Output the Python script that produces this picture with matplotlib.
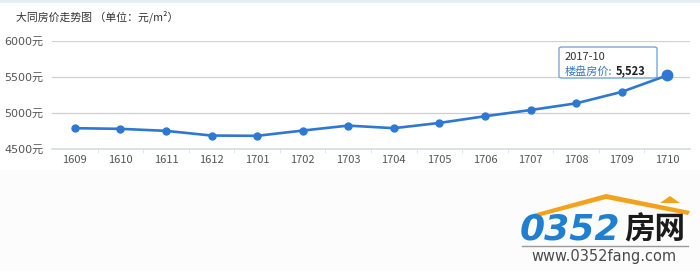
import matplotlib.pyplot as plt
from matplotlib.patches import Polygon, FancyBboxPatch

plt.rcParams['font.family'] = ['Noto Sans CJK SC', 'DejaVu Sans']

months = ['1609', '1610', '1611', '1612', '1701', '1702', '1703',
          '1704', '1705', '1706', '1707', '1708', '1709', '1710']
prices = [4789, 4780, 4752, 4687, 4683, 4756, 4825,
          4789, 4862, 4955, 5041, 5134, 5293, 5523]
yticks = [4500, 5000, 5500, 6000]
ytick_labels = ['4500元', '5000元', '5500元', '6000元']
hover_label = '2017-10'

line_color = '#2e78d2'

fig = plt.figure(figsize=(7, 2.71), dpi=100)
fig.patch.set_facecolor('white')

# light grey lower band behind the logo
fig.add_artist(plt.Rectangle((0, 0), 1, 101 / 271, transform=fig.transFigure,
                             facecolor='#fcfcfc', edgecolor='none', zorder=0))
fig.add_artist(plt.Line2D([0, 1], [0.997, 0.997], transform=fig.transFigure,
                          color='#e3eef7', lw=2))

ax = fig.add_axes([52 / 700, 122 / 271, 638 / 700, 108 / 271])
ax.set_facecolor('white')

x = list(range(len(months)))
ax.plot(x, prices, color=line_color, lw=1.9, marker='o', markersize=5,
        markeredgecolor=line_color, markerfacecolor=line_color, zorder=3)
ax.plot(x[-1], prices[-1], 'o', color=line_color, markersize=7.5, zorder=4)

ax.set_xlim(-0.5, len(months) - 0.5)
ax.set_ylim(yticks[0], yticks[-1])
ax.set_yticks(yticks)
ax.set_yticklabels(ytick_labels)
ax.set_xticks(x)
ax.set_xticklabels(months)
ax.set_xticks([i + 0.5 for i in x[:-1]], minor=True)
ax.tick_params(axis='y', length=0, pad=6, labelsize=8, labelcolor='#555555')
ax.tick_params(axis='x', which='major', length=0, pad=4, labelsize=8,
               labelcolor='#555555')
ax.tick_params(axis='x', which='minor', length=3, color='#dde3ea', direction='out')
for t in ax.get_yticklabels():
    t.set_fontfamily(['DejaVu Sans', 'Noto Sans CJK SC'])

ax.grid(axis='y', color='#d0d0d0', lw=0.9)
for s in ['top', 'right', 'left']:
    ax.spines[s].set_visible(False)
ax.spines['bottom'].set_color('#d5dbe2')
ax.spines['bottom'].set_linewidth(1.2)

fig.text(16 / 700, 1 - 17 / 271, '大同房价走势图 （单位：元/m²）', fontsize=7.8,
         color='#333333', va='center', ha='left')

# tooltip
tip = FancyBboxPatch((559 / 700, 1 - 78 / 271), 98 / 700, 31 / 271,
                     boxstyle='round,pad=0,rounding_size=0.005',
                     transform=fig.transFigure, facecolor='white', alpha=0.9,
                     edgecolor='#6a9ed8', lw=1.0, zorder=5)
fig.add_artist(tip)
fig.text(565 / 700, 1 - 57 / 271, hover_label, fontsize=8, color='#333333',
         va='center', ha='left', zorder=6)
fig.text(565 / 700, 1 - 71 / 271, '楼盘房价:', fontsize=8, color='#3a78c0',
         va='center', ha='left', zorder=6)
fig.text(616 / 700, 1 - 71 / 271, f'{prices[-1]:,}', fontsize=8,
         color='#222222', weight='bold', va='center', ha='left', zorder=6)

# logo
roof = Polygon([[533 / 700, 1 - 214 / 271], [606 / 700, 1 - 194 / 271],
                [690 / 700, 1 - 211 / 271], [688 / 700, 1 - 215 / 271],
                [606 / 700, 1 - 199 / 271], [537 / 700, 1 - 217 / 271]],
               closed=True, transform=fig.transFigure, facecolor='#f4a21c',
               edgecolor='none', zorder=2)
fig.add_artist(roof)
chimney = Polygon([[660 / 700, 1 - 203 / 271], [670 / 700, 1 - 196 / 271],
                   [680 / 700, 1 - 203 / 271]], closed=True,
                  transform=fig.transFigure, facecolor='#f4a21c',
                  edgecolor='none', zorder=2)
fig.add_artist(chimney)
fig.text(520 / 700, 1 - 230 / 271, '0352', fontsize=26, color='#1f7fd0',
         weight='bold', style='italic', family='DejaVu Sans',
         va='center', ha='left')
fig.text(624 / 700, 1 - 229 / 271, '房网', fontsize=22, color='#1a1a1a',
         weight='bold', va='center', ha='left')
fig.add_artist(plt.Line2D([522 / 700, 688 / 700], [1 - 246 / 271, 1 - 246 / 271],
                          transform=fig.transFigure, color='#9a9a9a', lw=1))
fig.text(604 / 700, 1 - 256 / 271, 'www.0352fang.com', fontsize=10.5,
         color='#4a4a4a', family='DejaVu Sans', va='center', ha='center')

fig.savefig('out.png', dpi=100, facecolor=fig.get_facecolor())
